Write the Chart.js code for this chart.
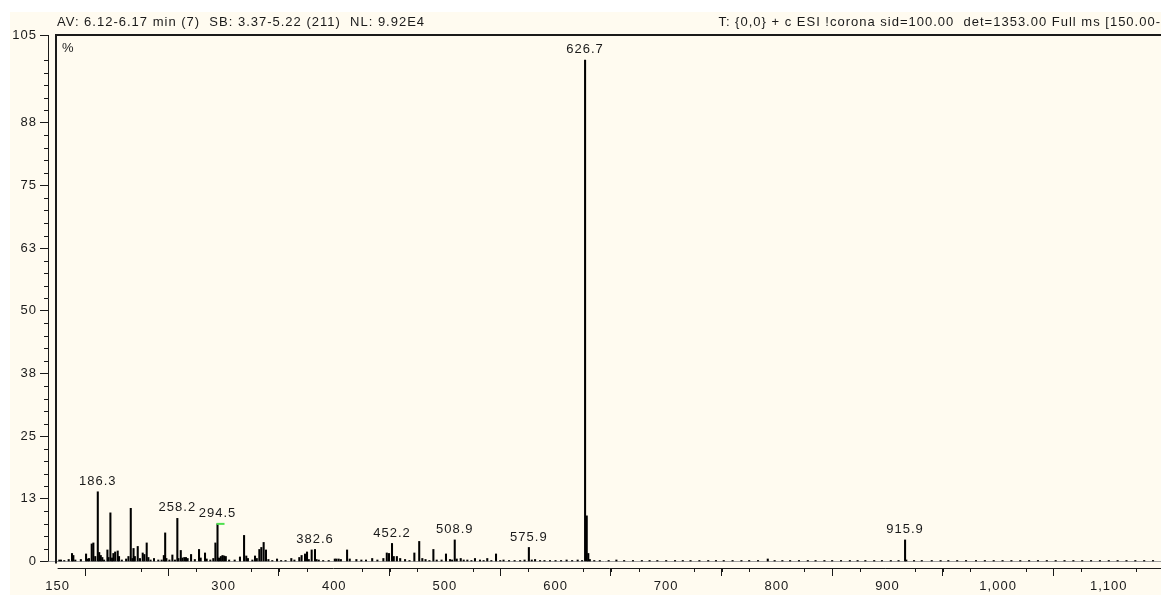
<!DOCTYPE html>
<html>
<head>
<meta charset="utf-8">
<script src="https://cdn.jsdelivr.net/npm/chart.js@4.4.1/dist/chart.umd.min.js"></script>
<style>
  html, body { margin: 0; padding: 0; background: #fff; }
  canvas { display: block; }
</style>
</head>
<body>
<canvas id="ms-chart" width="1161" height="595"></canvas>
<script>
// Mass spectrum (AV 6.12-6.17 min), centroid sticks
const mzValues = [
  151.5, 153, 156, 160, 163, 164.2, 166, 171, 175.7, 177, 178.4, 180.8, 182.3, 184,
  186.3, 187.6, 189, 190.4, 192, 195, 196, 197.7, 199.2, 200.4, 202, 204.3, 205.5, 208,
  211.9, 214, 216.1, 217.6, 218.6, 219.8, 222.4, 224.4, 226.9, 228.4, 230.5, 232, 234,
  237.1, 241, 244, 246, 247.2, 248.3, 251, 253.7, 256, 258.2, 259.2, 261.3, 262.8,
  264.5, 266, 267.5, 270.6, 274, 277.8, 279.3, 283.2, 284.7, 288, 290.7, 292.6, 294.5,
  295.8, 297.5, 299, 300.5, 302, 305, 310, 314.8, 318.5, 320.5, 322, 326, 328.4, 330,
  332.3, 334.1, 336.2, 338.3, 340.5, 344, 348.3, 352, 356, 361.2, 364, 368.4, 370.5,
  373.6, 375.4, 377, 379.6, 382.6, 384, 386, 390, 395, 400.5, 402, 404, 406, 411.6,
  414, 420, 424.5, 428.7, 434.3, 439, 444.4, 447.5, 449.5, 452.2, 453.8, 456.6, 459.6,
  464, 468, 472.4, 476.8, 479.6, 482.5, 486, 489.6, 492.6, 497, 501, 504.6, 506.5,
  508.9, 510.7, 514.3, 517, 520.3, 524, 527.2, 531.7, 535, 538.3, 542, 546.2, 550, 553,
  558, 563, 568, 572, 575.9, 578.5, 581.5, 586, 590, 595, 600, 605, 610, 615, 620, 624,
  626.7, 628.2, 629.6, 631, 635, 640, 648, 655, 662, 670, 678, 685, 692, 700, 708, 715,
  722, 730, 738, 745, 752, 760, 768, 775, 783, 791.8, 798, 805, 812, 820, 828, 835, 843,
  850, 858, 866, 873, 880, 888, 895, 903, 910, 915.9, 917, 924, 931, 940, 948, 955, 963,
  971, 980, 988, 996, 1004, 1012, 1020, 1028, 1036, 1044, 1052, 1060, 1068, 1076, 1084,
  1092, 1100, 1108, 1116, 1124, 1132, 1140
];
const intensities = [
  0.3, 0.3, 0.2, 0.4, 1.6, 1.2, 0.3, 0.4, 1.5, 0.5, 0.6, 3.5, 3.7, 1.0,
  13.9, 1.8, 1.2, 0.8, 0.3, 2.3, 0.8, 9.7, 0.7, 1.6, 1.9, 2.1, 1.0, 0.3,
  0.5, 1.0, 10.6, 0.6, 2.6, 1.0, 3.0, 0.6, 1.7, 1.4, 3.7, 0.8, 0.3,
  0.6, 0.3, 0.3, 1.2, 5.7, 0.6, 0.3, 1.3, 0.3, 8.6, 0.6, 2.2, 0.7,
  0.8, 0.8, 0.6, 1.4, 0.4, 2.4, 0.7, 1.7, 0.5, 0.3, 0.6, 3.7, 7.5,
  0.7, 1.0, 1.2, 1.1, 1.0, 0.3, 0.3, 0.9, 5.2, 1.1, 0.6, 0.3, 1.1, 0.6,
  2.4, 2.8, 3.8, 2.3, 0.4, 0.2, 0.5, 0.2, 0.2, 0.6, 0.3, 0.8, 1.2,
  1.5, 1.9, 0.4, 2.3, 2.4, 0.4, 0.3, 0.2, 0.2, 0.5, 0.5, 0.5, 0.4, 2.3,
  0.5, 0.4, 0.3, 0.3, 0.6, 0.3, 0.6, 1.7, 1.6, 3.6, 1.0, 1.0, 0.6,
  0.4, 0.2, 1.7, 4.0, 0.6, 0.4, 0.2, 2.4, 0.3, 0.3, 1.5, 0.4, 0.3,
  4.3, 0.5, 0.6, 0.3, 0.3, 0.2, 0.6, 0.3, 0.2, 0.6, 0.2, 1.5, 0.2, 0.3,
  0.2, 0.2, 0.2, 0.3, 2.8, 0.3, 0.4, 0.2, 0.2, 0.2, 0.2, 0.2, 0.3, 0.2, 0.3, 0.2,
  100, 9.1, 1.6, 0.4, 0.2, 0.2, 0.2, 0.3, 0.2, 0.2, 0.2, 0.2, 0.2, 0.2, 0.2, 0.2,
  0.2, 0.2, 0.2, 0.2, 0.2, 0.2, 0.2, 0.2, 0.2, 0.5, 0.2, 0.2, 0.2, 0.2, 0.2, 0.2, 0.2,
  0.2, 0.2, 0.2, 0.2, 0.2, 0.2, 0.2, 0.2, 0.2, 4.3, 0.3, 0.2, 0.2, 0.2, 0.2, 0.2, 0.2,
  0.2, 0.2, 0.2, 0.2, 0.2, 0.2, 0.2, 0.2, 0.2, 0.2, 0.2, 0.2, 0.2, 0.2, 0.2,
  0.2, 0.2, 0.2, 0.2, 0.2, 0.2, 0.2
];
const peakLabels = [186.3, 258.2, 294.5, 382.6, 452.2, 508.9, 575.9, 626.7, 915.9];
const markedPeak = 294.5;

const xMajorTicks = [150, 200, 300, 400, 500, 600, 700, 800, 900, 1000, 1100];
const xTickLabels = ["150", "", "300", "400", "500", "600", "700", "800", "900", "1,000", "1,100"];
const yMajorTicks = [0, 12.5, 25, 37.5, 50, 62.5, 75, 87.5, 105];
const yTickLabels = ["0", "13", "25", "38", "50", "63", "75", "88", "105"];

const headerLeft = "AV: 6.12-6.17 min (7)  SB: 3.37-5.22 (211)  NL: 9.92E4";
const headerRight = "T: {0,0} + c ESI !corona sid=100.00  det=1353.00 Full ms [150.00-1500.00]";
const headerRightVisible = "T: {0,0} + c ESI !corona sid=100.00  det=1353.00 Full ms [150.00-";

const FAMILY = "'Liberation Sans', Arial, sans-serif";
const FONT = "13px " + FAMILY;
const INK = "#1a1a1a";

const spectrumDecor = {
  id: "spectrumDecor",
  beforeDraw(chart) {
    const c = chart.ctx;
    c.save();
    c.fillStyle = "#ffffff";
    c.fillRect(0, 0, chart.width, chart.height);
    c.fillStyle = "#fffbf0";
    c.fillRect(10, 12, chart.width - 10, chart.height - 12);
    c.restore();
    // the original font is a little wider than Liberation Sans
    c.letterSpacing = "1px";
  },
  afterDraw(chart) {
    const c = chart.ctx;
    const xs = chart.scales.x, ys = chart.scales.y;
    const area = chart.chartArea;
    const y0 = ys.getPixelForValue(0);
    c.save();
    c.strokeStyle = INK;
    c.fillStyle = INK;

    // y axis line + minor ticks
    c.lineWidth = 1;
    c.beginPath();
    c.moveTo(area.left + 0.5, ys.getPixelForValue(105));
    c.lineTo(area.left + 0.5, y0);
    for (let v = 2.5; v <= 100; v += 2.5) {
      if (yMajorTicks.includes(v)) continue;
      const py = Math.round(ys.getPixelForValue(v)) + 0.5;
      c.moveTo(area.left - 4, py);
      c.lineTo(area.left, py);
    }
    c.stroke();

    // x axis line + minor ticks
    c.beginPath();
    c.moveTo(xs.getPixelForValue(150), area.bottom + 0.5);
    c.lineTo(area.right, area.bottom + 0.5);
    for (let v = 175; v < 1150; v += 25) {
      if (xMajorTicks.includes(v)) continue;
      const px = Math.round(xs.getPixelForValue(v)) + 0.5;
      c.moveTo(px, area.bottom);
      c.lineTo(px, area.bottom + 4);
    }
    c.stroke();

    // plot frame (left + top)
    c.lineWidth = 2;
    c.beginPath();
    c.moveTo(area.left + 8, y0 + 2);
    c.lineTo(area.left + 8, area.top);
    c.lineTo(area.right, area.top);
    c.stroke();

    // header + % sign
    c.font = FONT;
    c.letterSpacing = "1px";
    c.textBaseline = "alphabetic";
    c.textAlign = "left";
    c.fillText(headerLeft, 57, 26);
    const rightStart = chart.width - c.measureText(headerRightVisible).width;
    c.fillText(headerRight, rightStart, 26);
    c.fillText("%", 62, 52);

    // peak labels
    const meta = chart.getDatasetMeta(0);
    c.textAlign = "center";
    c.textBaseline = "bottom";
    peakLabels.forEach((mz) => {
      const i = mzValues.indexOf(mz);
      const bar = meta.data[i];
      c.fillText(mz.toFixed(1), bar.x, bar.y - 4);
    });

    // green marker on the selected peak
    const mi = mzValues.indexOf(markedPeak);
    const mb = meta.data[mi];
    c.strokeStyle = "#4ee04e";
    c.lineWidth = 2;
    c.beginPath();
    c.moveTo(mb.x - 1, mb.y);
    c.lineTo(mb.x + 7, mb.y);
    c.stroke();
    c.restore();
  }
};

const ctx = document.getElementById("ms-chart");
new Chart(ctx, {
  type: "bar",
  data: {
    datasets: [
      {
        label: "Intensity",
        data: mzValues.map((mz, i) => ({ x: mz, y: intensities[i] })),
        backgroundColor: "#000",
        borderWidth: 0,
        barThickness: 1.4,
      },
    ],
  },
  options: {
    responsive: false,
    animation: false,
    events: [],
    layout: { padding: { top: 35, left: 0, right: 0, bottom: 0 } },
    plugins: { legend: { display: false }, tooltip: { enabled: false } },
    scales: {
      x: {
        type: "linear",
        min: 141.3,
        max: 1147.2,
        offset: false,
        afterFit: (s) => { s.height = 27; },
        afterBuildTicks: (s) => { s.ticks = xMajorTicks.map((v) => ({ value: v })); },
        border: { display: false },
        grid: { drawOnChartArea: false, tickLength: 8, tickColor: INK, tickWidth: 1 },
        ticks: {
          autoSkip: false,
          maxRotation: 0,
          padding: 3,
          color: INK,
          font: { family: FAMILY, size: 13 },
          callback: (v) => xTickLabels[xMajorTicks.indexOf(v)],
        },
      },
      y: {
        min: -1.3,
        max: 105,
        afterFit: (s) => { s.width = 48; },
        afterBuildTicks: (s) => { s.ticks = yMajorTicks.map((v) => ({ value: v })); },
        border: { display: false },
        grid: {
          drawOnChartArea: true,
          color: (c) => (c.tick && c.tick.value === 0 ? "#a0a0a0" : "rgba(0,0,0,0)"),
          tickColor: INK,
          tickLength: 8,
          tickWidth: 1,
        },
        ticks: {
          autoSkip: false,
          padding: 3,
          color: INK,
          font: { family: FAMILY, size: 13 },
          callback: (v) => yTickLabels[yMajorTicks.indexOf(v)],
        },
      },
    },
  },
  plugins: [spectrumDecor],
});
</script>
</body>
</html>
